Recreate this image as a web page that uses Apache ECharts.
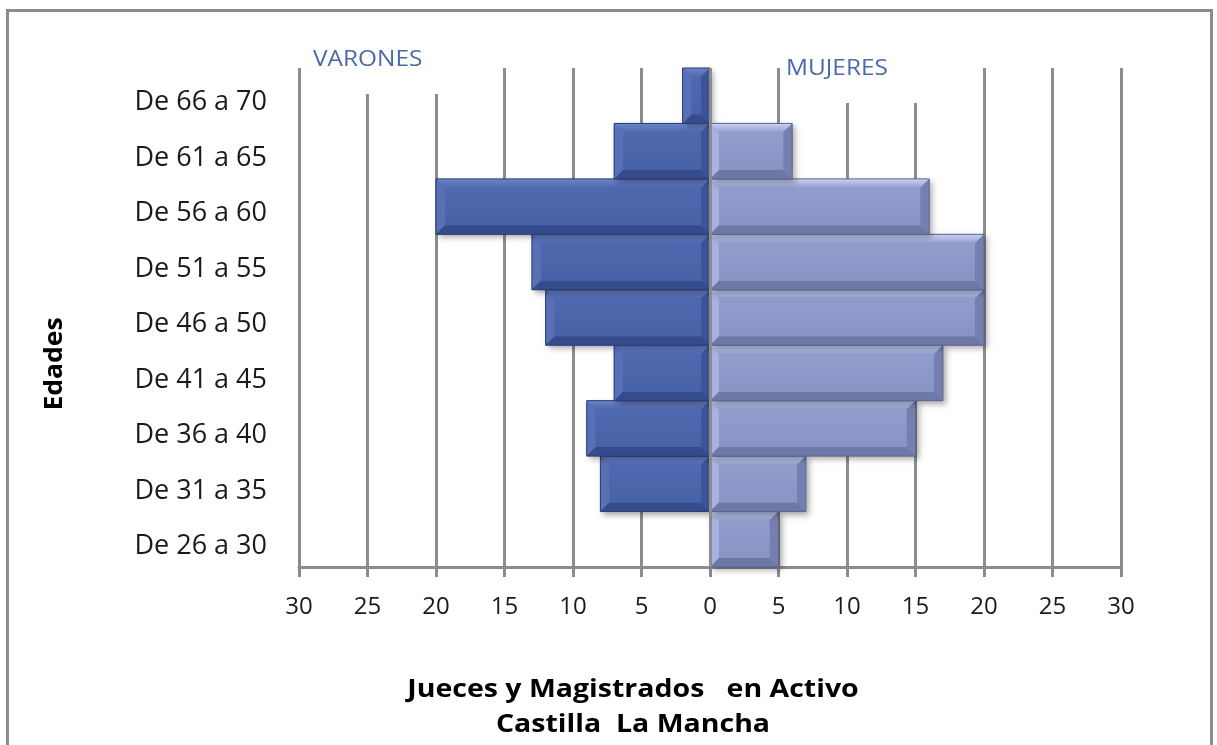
<!DOCTYPE html>
<html>
<head>
<meta charset="utf-8">
<script src="https://cdn.jsdelivr.net/npm/echarts@6/dist/echarts.min.js"></script>
<style>
  html, body { margin: 0; padding: 0; background: #fff; }
  #chart { width: 1217px; height: 745px; }
</style>
</head>
<body>
<div id="chart"></div>
<script>
// Age groups, bottom to top
const edades = ['De 26 a 30', 'De 31 a 35', 'De 36 a 40', 'De 41 a 45', 'De 46 a 50',
                'De 51 a 55', 'De 56 a 60', 'De 61 a 65', 'De 66 a 70'];
// Judges per age group
const varones = [0, 8, 9, 7, 12, 13, 20, 7, 2];
const mujeres = [5, 7, 15, 17, 20, 20, 16, 6, 0];
// Axis ticks
const ejeMin = -30;
const ejeMax = 30;
const ejePaso = 5;

const tonos = {
  varones: { face: '#4862a8', faceTop: '#4f69b0', top: '#6a84c9', left: '#5770b8', bottom: '#364b8c', right: '#3d5497', edge: '#2c3c72' },
  mujeres: { face: '#8994c5', faceTop: '#929dcd', top: '#cbd4f4', left: '#a7b2df', bottom: '#6d78a7', right: '#7580b0', edge: '#5c6692' }
};

// Bevelled bar drawn from the axis scales
function barraBiselada(t) {
  return function (params, api) {
    const v = api.value(0);
    const idx = api.value(1);
    if (!v) return null;
    const p0 = api.coord([0, idx]);
    const p1 = api.coord([v, idx]);
    const h = api.size([0, 1])[1];
    const x0 = Math.min(p0[0], p1[0]);
    const x1 = Math.max(p0[0], p1[0]);
    const y0 = p0[1] - h / 2;
    const y1 = p0[1] + h / 2;
    const b = Math.min(9, (x1 - x0) / 2.5);
    return {
      type: 'group',
      children: [
        { type: 'rect', shape: { x: x0, y: y0, width: x1 - x0, height: y1 - y0 },
          style: { fill: t.face, shadowBlur: 6, shadowOffsetX: 3, shadowOffsetY: 3, shadowColor: 'rgba(0,0,0,0.35)' } },
        { type: 'polygon', shape: { points: [[x0, y0], [x1, y0], [x1 - b, y0 + b], [x0 + b, y0 + b]] },
          style: { fill: new echarts.graphic.LinearGradient(0, 0, 0, 1, [{ offset: 0, color: t.top }, { offset: 1, color: t.faceTop }]) } },
        { type: 'polygon', shape: { points: [[x0, y0], [x0 + b, y0 + b], [x0 + b, y1 - b], [x0, y1]] },
          style: { fill: t.left } },
        { type: 'polygon', shape: { points: [[x1, y0], [x1, y1], [x1 - b, y1 - b], [x1 - b, y0 + b]] },
          style: { fill: t.right } },
        { type: 'polygon', shape: { points: [[x0, y1], [x0 + b, y1 - b], [x1 - b, y1 - b], [x1, y1]] },
          style: { fill: t.bottom } },
        { type: 'rect', shape: { x: x0 + b, y: y0 + b, width: Math.max(0, x1 - x0 - 2 * b), height: y1 - y0 - 2 * b },
          style: { fill: new echarts.graphic.LinearGradient(0, 0, 0, 1, [{ offset: 0, color: t.faceTop }, { offset: 1, color: t.face }]) } },
        { type: 'rect', shape: { x: x0, y: y0, width: x1 - x0, height: y1 - y0 },
          style: { fill: 'none', stroke: t.edge, lineWidth: 1 } }
      ]
    };
  };
}

const chart = echarts.init(document.getElementById('chart'), null, { renderer: 'canvas' });
const gris = '#8c8c8c';
const fuente = '"Open Sans", Lato, sans-serif';

chart.setOption({
  animation: false,
  grid: { left: 299, right: 96, top: 68, bottom: 178, containLabel: false },
  xAxis: {
    type: 'value', min: ejeMin, max: ejeMax, interval: ejePaso,
    axisLine: { show: true, onZero: false, lineStyle: { color: gris, width: 3 } },
    axisTick: { show: true, length: 10, lineStyle: { color: gris, width: 3 } },
    axisLabel: { margin: 28, color: '#1a1a1a', fontSize: 24, fontFamily: fuente,
                 formatter: v => String(Math.abs(v)) },
    splitLine: { show: true, lineStyle: { color: gris, width: 3 } }
  },
  yAxis: {
    type: 'category', data: edades,
    axisLine: { show: false }, axisTick: { show: false },
    axisLabel: { margin: 32, color: '#1a1a1a', fontSize: 27, fontFamily: fuente,
                 verticalAlign: 'top', lineHeight: 14 }
  },
  series: [
    {
      name: 'VARONES', type: 'custom', z: 3,
      renderItem: barraBiselada(tonos.varones),
      encode: { x: 0, y: 1 },
      data: varones.map((v, i) => [-v, i])
    },
    {
      name: 'MUJERES', type: 'custom', z: 3,
      renderItem: barraBiselada(tonos.mujeres),
      encode: { x: 0, y: 1 },
      data: mujeres.map((v, i) => [v, i]),
      markLine: {
        silent: true, symbol: 'none', z: 10,
        label: { show: false },
        lineStyle: { color: gris, width: 3, type: 'solid' },
        data: [{ xAxis: 0 }]
      }
    }
  ],
  graphic: [
    { type: 'rect', z: 1, shape: { x: 7.5, y: 10.5, width: 1204, height: 760 },
      style: { fill: 'none', stroke: gris, lineWidth: 3 } },
    { type: 'rect', z: 5, shape: { x: 304, y: 48, width: 160, height: 46 }, style: { fill: '#fff' } },
    { type: 'rect', z: 5, shape: { x: 781, y: 55, width: 150, height: 48 }, style: { fill: '#fff' } },
    { type: 'text', z: 6, x: 313, y: 49, scaleX: 1.11,
      style: { text: 'VARONES', fill: '#4a6aa8', fontSize: 22, fontFamily: fuente } },
    { type: 'text', z: 6, x: 786, y: 58, scaleX: 1.11,
      style: { text: 'MUJERES', fill: '#4a6aa8', fontSize: 22, fontFamily: fuente } },
    { type: 'text', z: 6, x: 55, y: 364, rotation: Math.PI / 2, scaleX: 1.06,
      style: { text: 'Edades', fill: '#000', fontSize: 25, fontWeight: 'bold', fontFamily: fuente,
               align: 'center', verticalAlign: 'middle' } },
    { type: 'text', z: 6, x: 633, y: 690, scaleX: 1.14,
      style: { text: 'Jueces y Magistrados   en Activo', fill: '#000', fontSize: 25, fontWeight: 'bold',
               fontFamily: fuente, align: 'center', verticalAlign: 'middle' } },
    { type: 'text', z: 6, x: 633, y: 725, scaleX: 1.14,
      style: { text: 'Castilla  La Mancha', fill: '#000', fontSize: 25, fontWeight: 'bold',
               fontFamily: fuente, align: 'center', verticalAlign: 'middle' } }
  ]
});
</script>
</body>
</html>
